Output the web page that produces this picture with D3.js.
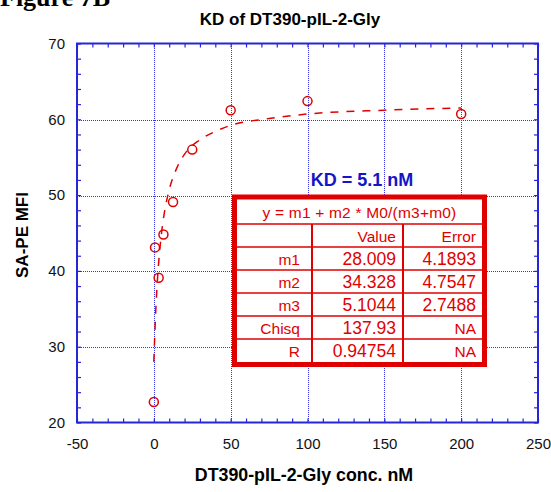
<!DOCTYPE html>
<html>
<head>
<meta charset="utf-8">
<script src="https://cdn.jsdelivr.net/npm/d3@7"></script>
<style>
  body { margin: 0; background: #fff; }
  text { font-family: Arial, "Liberation Sans", sans-serif; }
</style>
</head>
<body>
<div id="chart"></div>
<script>
// measured points
var concX = [0, 0.78, 3.125, 6.25, 12.5, 25, 50, 100, 200];
var mfiY = [22.7, 43.1, 39.1, 44.8, 49.1, 56.0, 61.2, 62.4, 60.7];

// fitted curve
var fitX = [0, 1, 2, 3, 5, 7.5, 10, 15, 20, 30, 40, 50, 75, 100, 150, 200];
var fitY = [28.0, 33.6, 37.7, 40.7, 45.0, 48.4, 50.7, 53.6, 55.4, 57.3, 58.4, 59.2, 60.1, 60.7, 61.2, 61.5];

var xTicks = [-50, 0, 50, 100, 150, 200, 250];
var yTicks = [20, 30, 40, 50, 60, 70];

var chartTitle = "KD of DT390-pIL-2-Gly";
var xTitle = "DT390-pIL-2-Gly conc. nM";
var yTitle = "SA-PE MFI";
var kdLabel = "KD = 5.1 nM";
var fitFormula = "y = m1 + m2 * M0/(m3+m0)";
var tableHead = ["", "Value", "Error"];
var paramNames = ["m1", "m2", "m3", "Chisq", "R"];
var paramValues = ["28.009", "34.328", "5.1044", "137.93", "0.94754"];
var paramErrors = ["4.1893", "4.7547", "2.7488", "NA", "NA"];

var W = 551, H = 492;
var margin = {top: 43.5, right: 13, bottom: 69.5, left: 77};
var width = W - margin.left - margin.right;
var height = H - margin.top - margin.bottom;

var blue = "#2626d8", red = "#e00000";

var svg = d3.select("#chart").append("svg")
    .attr("width", W)
    .attr("height", H);

svg.append("text")
    .attr("x", 0).attr("y", 6)
    .style("font-family", "'Liberation Serif', 'Times New Roman', serif")
    .style("font-weight", "bold")
    .style("font-size", "26px")
    .text("Figure 7B");

svg.append("text")
    .attr("x", 290).attr("y", 25)
    .attr("text-anchor", "middle")
    .style("font-weight", "bold").style("font-size", "17px")
    .text(chartTitle);

var g = svg.append("g")
    .attr("transform", "translate(" + margin.left + "," + margin.top + ")");

var x = d3.scaleLinear().domain([-50, 250]).range([0, width]);
var y = d3.scaleLinear().domain([20, 70]).range([height, 0]);

///////// grid, dotted

var px = v => Math.round(v) + 0.5;

g.append("g").selectAll("line")
    .data(xTicks.slice(1, -1))
  .enter().append("line")
    .attr("x1", d => px(x(d))).attr("x2", d => px(x(d)))
    .attr("y1", 0).attr("y2", height)
    .attr("stroke", "#3434e6").attr("stroke-width", 1)
    .attr("shape-rendering", "crispEdges")
    .attr("stroke-dasharray", "1,1");

g.append("g").selectAll("line")
    .data(yTicks.slice(1, -1))
  .enter().append("line")
    .attr("y1", d => px(y(d))).attr("y2", d => px(y(d)))
    .attr("x1", 0).attr("x2", width)
    .attr("stroke", "#3434e6").attr("stroke-width", 1)
    .attr("shape-rendering", "crispEdges")
    .attr("stroke-dasharray", "1,1");

///////// axes, ticks pointing in

var xMinor = d3.range(-50, 251, 10);
var yMinor = d3.range(20, 71, 2);

function styleAxis(sel) {
  sel.select(".domain").remove();
  sel.selectAll("line").attr("stroke", blue).attr("stroke-width", 1.2);
  sel.selectAll("text").style("font-size", "15px").attr("fill", "#111");
}

g.append("g").attr("transform", "translate(0," + height + ")")
    .call(d3.axisBottom(x).tickValues(xMinor).tickSize(-4).tickFormat(""))
    .call(styleAxis);
g.append("g")
    .call(d3.axisTop(x).tickValues(xMinor).tickSize(-4).tickFormat(""))
    .call(styleAxis);
g.append("g")
    .call(d3.axisLeft(y).tickValues(yMinor).tickSize(-4).tickFormat(""))
    .call(styleAxis);
g.append("g").attr("transform", "translate(" + width + ",0)")
    .call(d3.axisRight(y).tickValues(yMinor).tickSize(-4).tickFormat(""))
    .call(styleAxis);

g.append("g").attr("transform", "translate(0," + height + ")")
    .call(d3.axisBottom(x).tickValues(xTicks).tickSize(0).tickPadding(16)
      .tickFormat(d => String(d)))
    .call(styleAxis);
g.append("g")
    .call(d3.axisLeft(y).tickValues(yTicks).tickSize(0).tickPadding(12)
      .tickFormat(d => String(d)))
    .call(styleAxis);

g.append("rect")
    .attr("width", width).attr("height", height)
    .attr("fill", "none").attr("stroke", blue).attr("stroke-width", 2);

///////// fit curve and points

var line = d3.line()
    .x((d, i) => x(fitX[i]))
    .y(d => y(d))
    .curve(d3.curveMonotoneX);

g.append("path")
    .datum(fitY)
    .attr("d", line)
    .attr("fill", "none")
    .attr("stroke", red).attr("stroke-width", 1.5)
    .attr("stroke-dasharray", "8,8");

g.selectAll(".dot")
    .data(concX)
  .enter().append("circle")
    .attr("class", "dot")
    .attr("cx", d => x(d))
    .attr("cy", (d, i) => y(mfiY[i]))
    .attr("r", 4.5)
    .attr("fill", "none")
    .attr("stroke", red).attr("stroke-width", 1.5);

///////// KD label and fit table

svg.append("text")
    .attr("x", 362).attr("y", 186)
    .attr("text-anchor", "middle")
    .style("font-weight", "bold").style("font-size", "18px")
    .attr("fill", "#1414c8")
    .text(kdLabel);

var tbl = svg.append("g").attr("transform", "translate(237,200)");
var tw = 245, rowH = 23, headH = 24;
var colX = [0, 75, 166, tw];
var pad = [12, 7, 6];
var rows = [tableHead].concat(paramNames.map((n, i) => [n, paramValues[i], paramErrors[i]]));

tbl.append("rect")
    .attr("x", -2.5).attr("y", -3)
    .attr("width", tw + 5).attr("height", headH + rows.length * rowH + 5.5)
    .attr("fill", "#fff").attr("stroke", red).attr("stroke-width", 5);

tbl.append("text")
    .attr("x", tw / 2).attr("y", 17.5)
    .attr("text-anchor", "middle")
    .attr("fill", red).style("font-size", "15.5px")
    .style("letter-spacing", "0.2px")
    .text(fitFormula);

rows.forEach(function (r, i) {
  var top = headH + i * rowH;
  tbl.append("line")
      .attr("x1", 0).attr("x2", tw)
      .attr("y1", top).attr("y2", top)
      .attr("stroke", red).attr("stroke-width", 1.6);
  r.forEach(function (c, j) {
    var numeric = /^[0-9.]+$/.test(c);
    tbl.append("text")
        .attr("x", colX[j + 1] - pad[j])
        .attr("y", top + 17.5)
        .attr("text-anchor", "end")
        .attr("fill", red).style("font-size", numeric ? "17.5px" : "15.5px")
        .text(c);
  });
});

[colX[1], colX[2]].forEach(function (cx) {
  tbl.append("line")
      .attr("x1", cx).attr("x2", cx)
      .attr("y1", headH).attr("y2", headH + rows.length * rowH)
      .attr("stroke", red).attr("stroke-width", 2);
});

///////// axis titles

svg.append("text")
    .attr("x", 304).attr("y", 481)
    .attr("text-anchor", "middle")
    .style("font-weight", "bold").style("font-size", "17.8px")
    .text(xTitle);

svg.append("text")
    .attr("transform", "translate(28,235) rotate(-90)")
    .attr("text-anchor", "middle")
    .style("font-weight", "bold").style("font-size", "17px")
    .text(yTitle);
</script>
</body>
</html>
